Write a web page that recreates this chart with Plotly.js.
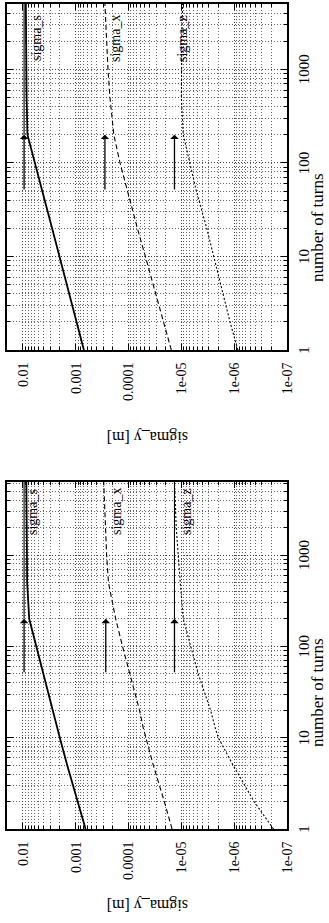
<!DOCTYPE html>
<html>
<head>
<meta charset="utf-8">
<script src="https://cdn.plot.ly/plotly-3.0.1.min.js"></script>
<style>
  html, body { margin: 0; padding: 0; width: 329px; height: 923px; overflow: hidden; background: #fff; }
  #plot { position: absolute; left: 0; top: 0; width: 923px; height: 329px;
          transform-origin: 0 0; transform: translate(0px, 923px) rotate(-90deg); }
</style>
</head>
<body>
<div id="plot"></div>
<script>
// ---- data ----
const turnsLeft  = [1, 2, 5, 10, 13, 20, 50, 100, 200, 500, 1000, 2000, 6300];
const sigmaSLeft = [6.5e-4, 9.3e-4, 1.45e-3, 2.0e-3, 2.25e-3, 2.7e-3, 4.1e-3, 5.6e-3, 7.6e-3, 8.3e-3, 8.4e-3, 8.5e-3, 8.6e-3];
const sigmaXLeft = [1.5e-5, 2.1e-5, 3.4e-5, 4.7e-5, 5.3e-5, 6.2e-5, 9.5e-5, 1.3e-4, 1.75e-4, 2.4e-4, 2.6e-4, 2.75e-4, 2.95e-4];
const sigmaZLeft = [1.8e-7, 4.2e-7, 1.05e-6, 2.0e-6, 2.3e-6, 2.8e-6, 4.8e-6, 6.6e-6, 9.2e-6, 1.05e-5, 1.15e-5, 1.25e-5, 1.35e-5];

const turnsRight  = [1, 2, 5, 10, 20, 50, 100, 200, 500, 1000, 2000, 5000];
const sigmaSRight = [7.0e-4, 9.6e-4, 1.5e-3, 2.05e-3, 2.8e-3, 4.3e-3, 5.9e-3, 8.2e-3, 8.5e-3, 8.6e-3, 8.7e-3, 8.8e-3];
const sigmaXRight = [1.55e-5, 2.2e-5, 3.4e-5, 4.8e-5, 6.8e-5, 1.05e-4, 1.45e-4, 1.9e-4, 2.25e-4, 2.45e-4, 2.6e-4, 2.8e-4];
const sigmaZRight = [8.5e-7, 1.2e-6, 1.8e-6, 2.4e-6, 3.3e-6, 5.2e-6, 7.0e-6, 9.2e-6, 1.0e-5, 1.0e-5, 9.8e-6, 9.5e-6];

// arrows (from / to number of turns) and their sigma levels
const arrowTurns = [50, 200];
const arrowLevelsLeft  = [9.5e-3, 2.7e-4, 1.35e-5];
const arrowLevelsRight = [9.5e-3, 2.8e-4, 1.35e-5];
// levels that continue as a solid line to the end of the axis
const limitLevelsLeft  = [9.5e-3, 1.35e-5];
const limitLevelsRight = [9.5e-3];

// curve labels
const seriesNames = ['sigma_s', 'sigma_x', 'sigma_z'];
const labelTurnsLeft = 2960, labelSigmaLeft = [6.5e-3, 1.7e-4, 8.1e-6];
const labelTurnsRight = 2140, labelSigmaRight = [5.5e-3, 1.8e-4, 9.6e-6];

const turnsTickVals = [1, 10, 100, 1000];
const turnsTickText = ['1', '10', '100', '1000'];
const sigmaTickVals = [1e-7, 1e-6, 1e-5, 1e-4, 1e-3, 1e-2];
const sigmaTickText = ['1e-07', '1e-06', '1e-05', '0.0001', '0.001', '0.01'];
const turnsMaxLeft = 6300, turnsMaxRight = 5000;
const sigmaMin = 1e-7, sigmaMax = 0.02;

const xTitle = 'number of turns';
const yTitle = 'sigma_y [m]';

// ---- styles ----
const FONT = 'Liberation Serif, Times New Roman, serif';
const lineStyles = [
  {color: '#000', width: 1.8, dash: 'solid'},
  {color: '#000', width: 1.1, dash: '5px,3px'},
  {color: '#000', width: 1.1, dash: '2px,2px'}
];

const traces = [];
function addPanel(turns, sArr, xArr, zArr, xa, ya) {
  [sArr, xArr, zArr].forEach((arr, i) => {
    traces.push({x: turns, y: arr, type: 'scatter', mode: 'lines', name: seriesNames[i],
      xaxis: xa, yaxis: ya, line: lineStyles[i], hoverinfo: 'skip'});
  });
}
addPanel(turnsLeft, sigmaSLeft, sigmaXLeft, sigmaZLeft, 'x', 'y');
addPanel(turnsRight, sigmaSRight, sigmaXRight, sigmaZRight, 'x2', 'y2');

limitLevelsLeft.forEach(l => traces.push({x: [arrowTurns[1], turnsMaxLeft], y: [l, l], type: 'scatter', mode: 'lines',
  xaxis: 'x', yaxis: 'y', line: {color: '#000', width: 1.1}, hoverinfo: 'skip'}));
limitLevelsRight.forEach(l => traces.push({x: [arrowTurns[1], turnsMaxRight], y: [l, l], type: 'scatter', mode: 'lines',
  xaxis: 'x2', yaxis: 'y2', line: {color: '#000', width: 1.1}, hoverinfo: 'skip'}));

const annotations = [];
function addArrows(levels, xr, yr) {
  levels.forEach(l => annotations.push({
    x: Math.log10(arrowTurns[1]), y: Math.log10(l), ax: Math.log10(arrowTurns[0]), ay: Math.log10(l),
    xref: xr, yref: yr, axref: xr, ayref: yr, text: '', showarrow: true,
    arrowhead: 1, arrowsize: 1.1, arrowwidth: 1.3, arrowcolor: '#000'
  }));
}
addArrows(arrowLevelsLeft, 'x', 'y');
addArrows(arrowLevelsRight, 'x2', 'y2');

function addLabels(nPos, sigmas, xr, yr) {
  sigmas.forEach((s, i) => annotations.push({
    x: Math.log10(nPos), y: Math.log10(s), xref: xr, yref: yr, text: seriesNames[i], showarrow: false,
    xanchor: 'center', yanchor: 'middle', font: {family: FONT, size: 14, color: '#000'}
  }));
}
addLabels(labelTurnsLeft, labelSigmaLeft, 'x', 'y');
addLabels(labelTurnsRight, labelSigmaRight, 'x2', 'y2');

// axis titles
[[0.250, 0.0195], [0.753, 0.5265]].forEach(([xt, yt]) => {
  annotations.push({x: xt, y: -0.11, xref: 'paper', yref: 'paper', text: xTitle, showarrow: false,
    xanchor: 'center', yanchor: 'middle', font: {family: FONT, size: 17, color: '#000'}});
  annotations.push({x: yt, y: 0.5, xref: 'paper', yref: 'paper', text: yTitle, showarrow: false, textangle: -90,
    xanchor: 'center', yanchor: 'middle', font: {family: FONT, size: 16, color: '#000'}});
});

function xAxis(domain, maxTurns, anchor) {
  return {type: 'log', range: [0, Math.log10(maxTurns)], domain: domain, anchor: anchor,
    tickmode: 'array', tickvals: turnsTickVals, ticktext: turnsTickText,
    ticks: 'inside', ticklen: 6, tickwidth: 1, tickcolor: '#000', mirror: 'allticks',
    showline: true, linecolor: '#000', linewidth: 1.6,
    showgrid: true, gridcolor: '#444', gridwidth: 1, griddash: '1px,2px',
    minor: {dtick: 'D1', ticks: 'inside', ticklen: 3, tickcolor: '#000', showgrid: true,
            gridcolor: '#666', gridwidth: 1, griddash: '1px,2px'},
    zeroline: false, ticklabelstandoff: 2,
    tickfont: {family: FONT, size: 15, color: '#000'}};
}
function yAxis(anchor) {
  return {type: 'log', range: [Math.log10(sigmaMin), Math.log10(sigmaMax)], domain: [0, 1], anchor: anchor,
    tickmode: 'array', tickvals: sigmaTickVals, ticktext: sigmaTickText,
    ticks: 'inside', ticklen: 6, tickwidth: 1, tickcolor: '#000', mirror: 'allticks',
    showline: true, linecolor: '#000', linewidth: 1.6,
    showgrid: true, gridcolor: '#444', gridwidth: 1, griddash: '1px,2px',
    minor: {dtick: 'D1', ticks: 'inside', ticklen: 3, tickcolor: '#000', showgrid: true,
            gridcolor: '#666', gridwidth: 1, griddash: '1px,2px'},
    zeroline: false, ticklabelstandoff: 8,
    tickfont: {family: FONT, size: 14, color: '#000'}};
}

const layout = {
  width: 923, height: 329,
  margin: {l: 0, r: 0, t: 7, b: 42},
  paper_bgcolor: '#fff', plot_bgcolor: '#fff',
  showlegend: false,
  xaxis: xAxis([0.1018, 0.4778], turnsMaxLeft, 'y'),
  yaxis: yAxis('x'),
  xaxis2: xAxis([0.6208, 0.9957], turnsMaxRight, 'y2'),
  yaxis2: yAxis('x2'),
  annotations: annotations
};

Plotly.newPlot('plot', traces, layout, {staticPlot: true, displayModeBar: false});
</script>
</body>
</html>
